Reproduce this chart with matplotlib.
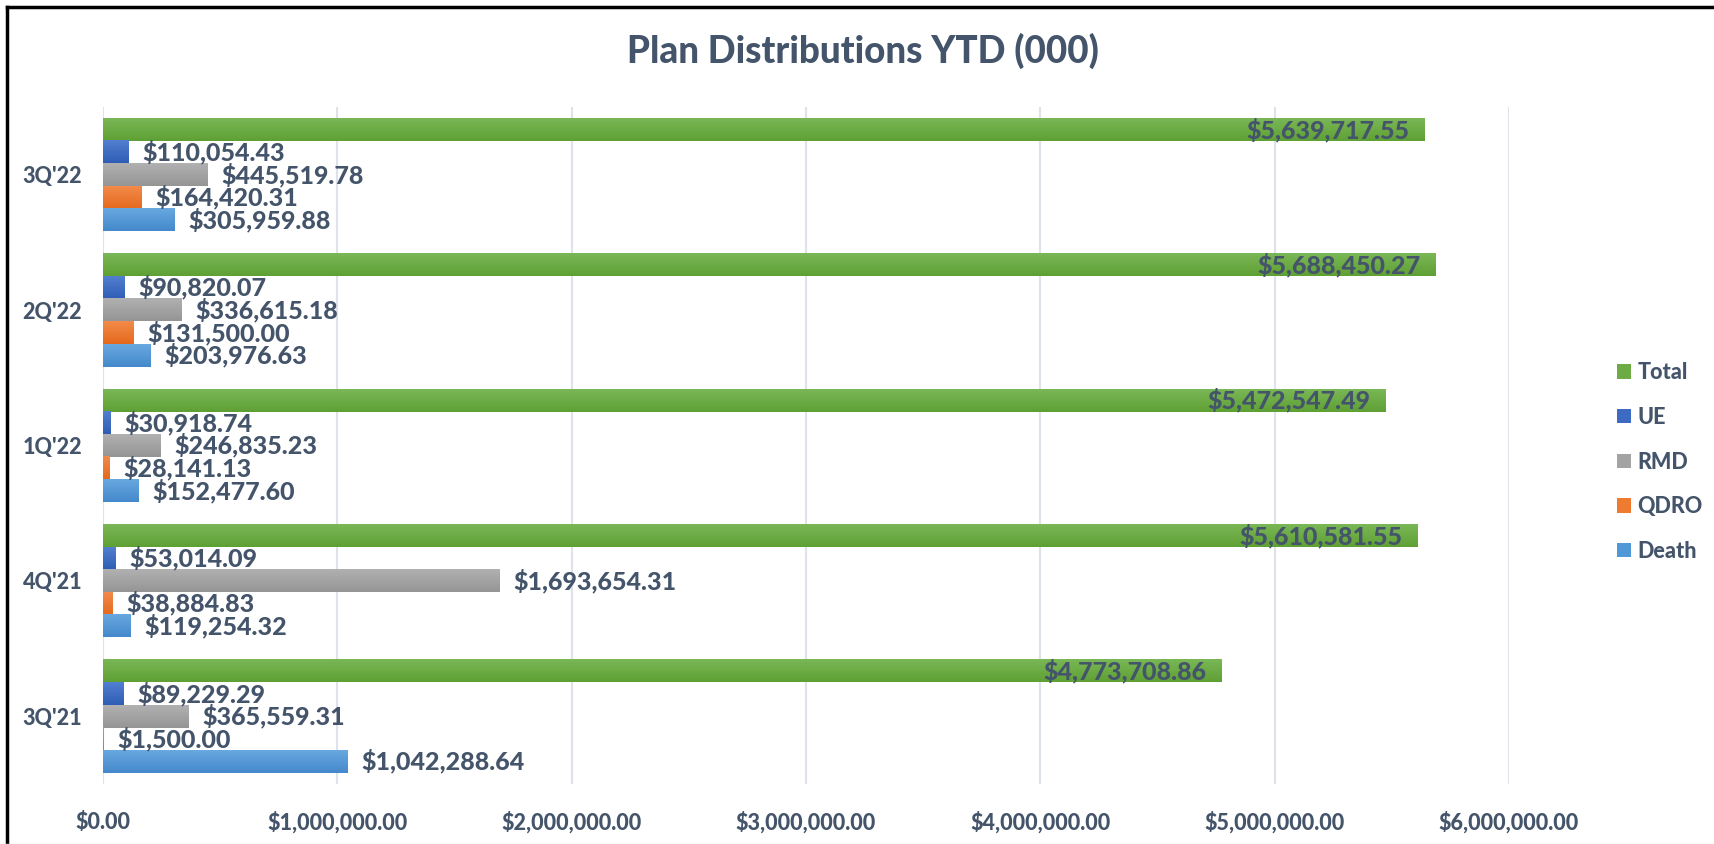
import matplotlib
matplotlib.use("Agg")
import matplotlib.pyplot as plt
import numpy as np
from matplotlib import font_manager
from matplotlib.lines import Line2D
from matplotlib.patches import Patch
from matplotlib.colors import LinearSegmentedColormap

# quarters, bottom to top as they appear on the chart
quarters = ["3Q'21", "4Q'21", "1Q'22", "2Q'22", "3Q'22"]

total = [4773708.86, 5610581.55, 5472547.49, 5688450.27, 5639717.55]
ue = [89229.29, 53014.09, 30918.74, 90820.07, 110054.43]
rmd = [365559.31, 1693654.31, 246835.23, 336615.18, 445519.78]
qdro = [1500.00, 38884.83, 28141.13, 131500.00, 164420.31]
death = [1042288.64, 119254.32, 152477.60, 203976.63, 305959.88]

x_ticks = [0, 1000000, 2000000, 3000000, 4000000, 5000000, 6000000]

text_color = '#44546A'


# pick a heavy Lato file directly so the weight is always the same
def bold_font(size):
    found = {}
    for f in font_manager.fontManager.ttflist:
        if f.name == 'Lato' and f.style == 'normal':
            found[f.weight] = f.fname
    for w in (800, 700):
        if w in found:
            return font_manager.FontProperties(fname=found[w], size=size)
    return font_manager.FontProperties(family='Lato', weight='bold', size=size)


W, H = 1715, 844
fig = plt.figure(figsize=(W / 100, H / 100), dpi=100)
ax = fig.add_axes([103 / W, 1 - 784 / H, (1509 - 103) / W, (784 - 107) / H])

# series drawn top to bottom inside each group: name, values, legend colour, gradient top/bottom
series = [
    ('Total', total, '#6DAB45', '#7AB757', '#5FA034'),
    ('UE', ue, '#3E6BC2', '#527FCF', '#2F5DB6'),
    ('RMD', rmd, '#A3A3A3', '#B1B1B1', '#959595'),
    ('QDRO', qdro, '#EE7B30', '#F28B4B', '#E5691C'),
    ('Death', death, '#5198D6', '#69A8E0', '#4489CC'),
]

h = 1 / 6
y = np.arange(len(quarters))
grad = np.linspace(0, 1, 256).reshape(-1, 1)
label_fp = bold_font(18)

for i, (name, vals, color, c_top, c_bot) in enumerate(series):
    pos = y + (2 - i) * h
    bars = ax.barh(pos, vals, height=h, color=color, linewidth=0, zorder=3)
    cmap = LinearSegmentedColormap.from_list(name, [c_top, c_bot])
    # light top-to-bottom gradient like the Office bar fill
    for b in bars:
        x0, y0 = b.get_x(), b.get_y()
        ax.imshow(grad, extent=[x0, x0 + b.get_width(), y0, y0 + b.get_height()],
                  aspect='auto', cmap=cmap, origin='upper', zorder=3.5,
                  interpolation='antialiased')
    for p, v in zip(pos, vals):
        lbl = '${:,.2f}'.format(v)
        if name == 'Total':
            ax.annotate(lbl, (v, p), xytext=(-11, 0), textcoords='offset points',
                        ha='right', va='center', fontproperties=label_fp,
                        color=text_color, zorder=5)
        else:
            ax.annotate(lbl, (v, p), xytext=(10, 0), textcoords='offset points',
                        ha='left', va='center', fontproperties=label_fp,
                        color=text_color, zorder=5)

ax.set_aspect('auto')
ax.set_xlim(0, 6000000)
ax.set_ylim(-0.5, len(quarters) - 0.5)
ax.set_xticks(x_ticks)
ax.set_xticklabels(['${:,.2f}'.format(t) for t in x_ticks])
ax.set_yticks(y)
ax.set_yticklabels(quarters)

tick_fp = bold_font(15.5)
for lab in ax.get_xticklabels() + ax.get_yticklabels():
    lab.set_fontproperties(tick_fp)
    lab.set_color(text_color)

ax.tick_params(axis='both', length=0)
ax.tick_params(axis='x', pad=20)
ax.tick_params(axis='y', pad=15)

ax.grid(axis='x', color='#DEE2E9', linewidth=1.5, zorder=0)
for s in ax.spines.values():
    s.set_visible(False)

fig.text(863 / W, 1 - 51 / H, 'Plan Distributions YTD (000)', ha='center', va='center',
         fontproperties=bold_font(26.5), color=text_color)

# legend
handles = [Patch(facecolor=s[2], edgecolor='none') for s in series]
labels = [s[0] for s in series]
leg = fig.legend(handles, labels, loc='center left', bbox_to_anchor=(1617 / W, 1 - 462 / H),
                 frameon=False, borderpad=0, borderaxespad=0, labelspacing=1.1,
                 handlelength=0.65, handleheight=0.65, handletextpad=0.3,
                 prop=bold_font(15.5))
for t in leg.get_texts():
    t.set_color(text_color)

# frame left and top, as in the screenshot
fig.add_artist(Line2D([7 / W, 7 / W], [0, 1 - 7 / H], color='black', linewidth=2.5,
                      transform=fig.transFigure))
fig.add_artist(Line2D([7 / W, 1], [1 - 7 / H, 1 - 7 / H], color='black', linewidth=2.5,
                      transform=fig.transFigure))
fig.add_artist(Line2D([0, 1], [0.5 / H, 0.5 / H], color='#E8E8E8', linewidth=1,
                      transform=fig.transFigure))

fig.savefig('out.png', dpi=100, facecolor='white')
